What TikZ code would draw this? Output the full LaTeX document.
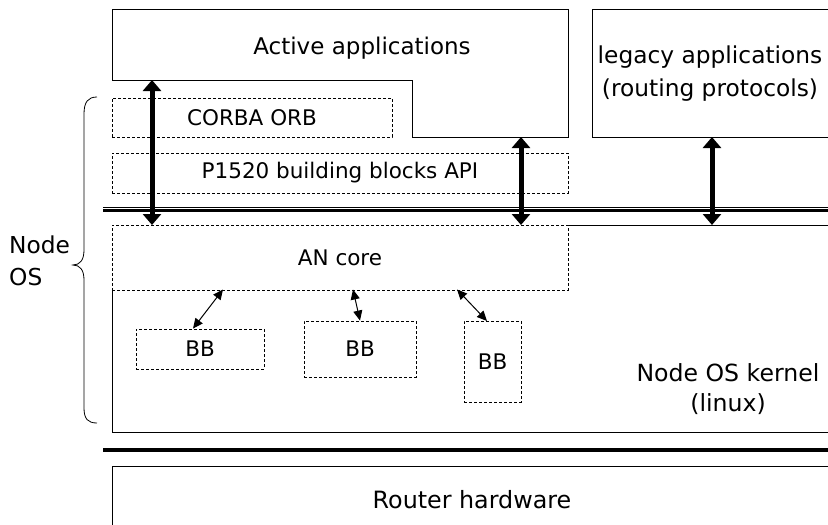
\documentclass[tikz,border=0pt]{standalone}
\usepackage{fontspec}
\setmainfont{DejaVu Sans}
\usetikzlibrary{arrows.meta}
\newcommand\dgmfont{\fontsize{21.5}{32}\selectfont}
\newcommand\dgmbigfont{\fontsize{23.3}{32}\selectfont}
\begin{document}
\begin{tikzpicture}[x=1pt,y=-1pt,
  solidline/.style={draw=black,line width=1pt},
  dashbox/.style={draw=black,line width=0.9pt,dash pattern=on 3pt off 2pt,inner sep=0pt,font=\dgmfont},
  lbl/.style={font=\dgmbigfont,inner sep=0pt,align=center},
  bigarrow/.style={line width=5pt,{Triangle[width=18pt,length=11pt]}-{Triangle[width=18pt,length=11pt]}},
  smallarrow/.style={line width=1pt,{Triangle[width=9pt,length=10pt]}-{Triangle[width=9pt,length=10pt]}},
  busline/.style={draw=black,line cap=butt}
]
\useasboundingbox (0,0) rectangle (828,525);
\clip (0,0) rectangle (828,525);

% application layer
\draw[solidline] (112,9) -- (568,9) -- (568,137) -- (412,137) -- (412,80) -- (112,80) -- cycle;
\node[lbl,font=\fontsize{23}{32}\selectfont] (active) at (362,48) {Active applications};
\draw[solidline] (840,9) -- (592,9) -- (592,137) -- (840,137);
\node[lbl,font=\fontsize{23.3}{33}\selectfont] (legacy) at (710,74) {legacy applications\\(routing protocols)};

% middleware boxes
\node[dashbox,minimum width=280pt,minimum height=39pt] (corba) at (252,117.5) {CORBA ORB};
\node[dashbox,minimum width=456pt,minimum height=40pt] (p1520) at (340,173) {P1520 building blocks API};

% interface bus
\draw[busline,line width=1pt] (103,207.5) -- (828,207.5);
\draw[busline,line width=3pt] (103,210.8) -- (828,210.8);

% node OS kernel
\draw[solidline] (568,225) -- (840,225);
\draw[solidline] (112,290) -- (112,432) -- (840,432);
\node[lbl,font=\fontsize{23.6}{30}\selectfont] (kernel) at (728,389) {Node OS kernel\\(linux)};
\node[dashbox,minimum width=456pt,minimum height=65pt] (ancore) at (340,257.5) {AN core};

% building blocks
\node[dashbox,minimum width=128pt,minimum height=40pt] (bb1) at (200,349) {BB};
\node[dashbox,minimum width=112pt,minimum height=56pt] (bb2) at (360,349) {BB};
\node[dashbox,minimum width=57pt,minimum height=81pt] (bb3) at (492.5,361.5) {BB};

\draw[smallarrow] (223,289.5) -- (bb1.north west -| 193,0);
\draw[smallarrow] (353,289.5) -- (bb2.north);
\draw[smallarrow] (457,289.5) -- (487,321);

% hardware bus and router
\draw[busline,line width=4pt] (103,449.5) -- (828,449.5);
\draw[solidline] (840,466) -- (112,466) -- (112,530);
\node[lbl,font=\fontsize{23.8}{32}\selectfont] (router) at (472,500) {Router hardware};

% API arrows
\coordinate (a1top) at (152,80);
\coordinate (a1bot) at (152,225);
\coordinate (a2top) at (521,137);
\coordinate (a2bot) at (521,225);
\coordinate (a3top) at (712,137);
\coordinate (a3bot) at (712,225);
\draw[bigarrow] (a1top) -- (a1bot);
\draw[bigarrow] (a2top) -- (a2bot);
\draw[bigarrow] (a3top) -- (a3bot);

% Node OS brace
\draw[line width=0.8pt] (97,97) .. controls (88,97) and (84,102) .. (84,114) -- (84,250)
  .. controls (84,260) and (80,265) .. (73,265)
  .. controls (80,265) and (84,270) .. (84,280) -- (84,408)
  .. controls (84,419) and (88,423) .. (97,423);
\node[lbl,align=left,anchor=west] (nodeos) at (9,261) {Node\\OS};
\end{tikzpicture}
\end{document}
